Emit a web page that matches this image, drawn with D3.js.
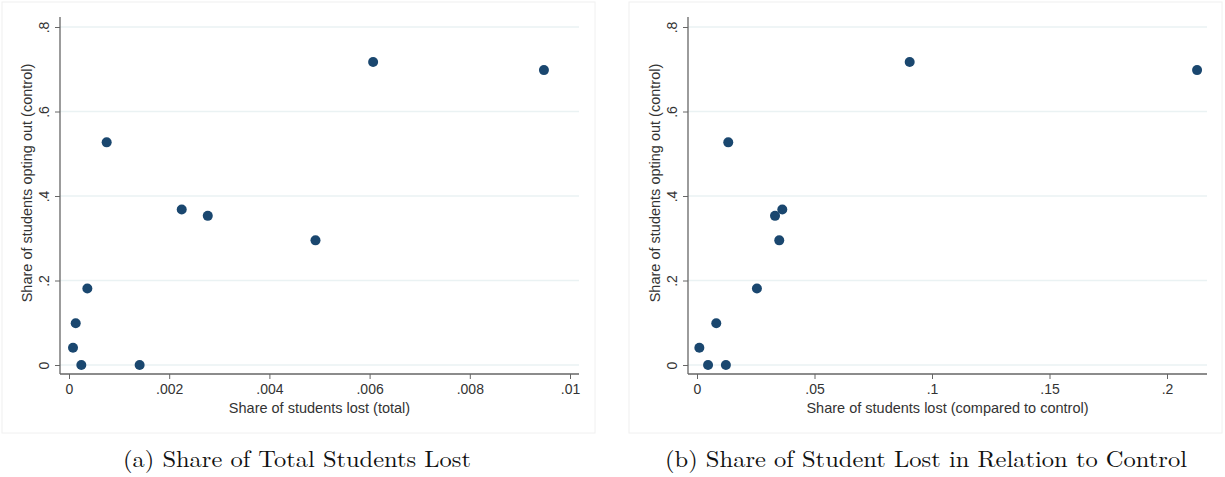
<!DOCTYPE html>
<html>
<head>
<meta charset="utf-8">
<script src="https://cdn.jsdelivr.net/npm/d3@7"></script>
<style>
  body { margin: 0; background: #fff; }
  svg { display: block; }
  .tick text { font-family: "Liberation Sans", Arial, sans-serif; font-size: 14px; fill: #333; }
  .axis-title { font-family: "Liberation Sans", Arial, sans-serif; font-size: 14.5px; fill: #333; }
  .caption { font-family: "Latin Modern Roman", "Liberation Serif", "DejaVu Serif", serif; font-size: 23px; fill: #111; }
</style>
</head>
<body>
<svg id="chart" width="1225" height="477"></svg>
<script>
// share opting out (control) -- same y for both panels
var optOut = [0.041, 0.099, 0, 0.181, 0, 0.527, 0.368, 0.353, 0.295, 0.717, 0.698];
// panel a: share of students lost (total)
var lostTotal = [0.00008, 0.000134, 0.000246, 0.000366, 0.00141, 0.000752, 0.00225, 0.00277, 0.00492, 0.00607, 0.00948];
// panel b: share lost compared to control
var lostRel = [0.001, 0.0082, 0.0047, 0.0255, 0.0123, 0.0133, 0.0363, 0.0332, 0.035, 0.0905, 0.2128];

var yTicks = [0, 0.2, 0.4, 0.6, 0.8];
var xTicksA = [0, 0.002, 0.004, 0.006, 0.008, 0.01];
var xTicksB = [0, 0.05, 0.1, 0.15, 0.2];

var fmt = function (v) {
  if (v === 0) return "0";
  return String(+v.toFixed(4)).replace(/^0\./, ".");
};

var svg = d3.select("#chart");

var panels = [
  { frame: [2, 2, 595, 433], axisX: [60, 579], axisY: [17, 374],
    xr: [69, 570], xd: [0, 0.01], xs: lostTotal, xt: xTicksA,
    xTitle: "Share of students lost (total)",
    caption: "(a) Share of Total Students Lost", capX: 297, capW: 348 },
  { frame: [629, 2, 1222, 433], axisX: [688, 1207], axisY: [17, 374],
    xr: [697, 1167], xd: [0, 0.2], xs: lostRel, xt: xTicksB,
    xTitle: "Share of students lost (compared to control)",
    caption: "(b) Share of Student Lost in Relation to Control", capX: 926, capW: 522 }
];

panels.forEach(function (p) {
  var g = svg.append("g");

  g.append("rect")
    .attr("x", p.frame[0]).attr("y", p.frame[1])
    .attr("width", p.frame[2] - p.frame[0]).attr("height", p.frame[3] - p.frame[1])
    .attr("fill", "#fff").attr("stroke", "#f0f0f0").attr("stroke-width", 1);

  var x = d3.scaleLinear().domain(p.xd).range(p.xr);
  var y = d3.scaleLinear().domain([0, 0.8]).range([365, 27]);

  // gridlines
  g.selectAll(".grid").data(yTicks).enter().append("line")
    .attr("x1", p.axisX[0]).attr("x2", p.axisX[1])
    .attr("y1", function (d) { return y(d); }).attr("y2", function (d) { return y(d); })
    .attr("stroke", "#eaf2f3").attr("stroke-width", 1.5);

  // x axis
  var xAxis = d3.axisBottom(x).tickValues(p.xt).tickFormat(fmt).tickSize(5).tickPadding(5);
  var xg = g.append("g").attr("transform", "translate(0," + p.axisY[1] + ")").call(xAxis);
  xg.select(".domain").remove();
  xg.selectAll(".tick line").attr("stroke", "#666");
  g.append("line")
    .attr("x1", p.axisX[0]).attr("x2", p.axisX[1])
    .attr("y1", p.axisY[1]).attr("y2", p.axisY[1])
    .attr("stroke", "#666").attr("stroke-width", 1.3);

  // y axis, labels turned vertical as in stata
  var yAxis = d3.axisLeft(y).tickValues(yTicks).tickFormat(fmt).tickSize(5).tickPadding(5);
  var yg = g.append("g").attr("transform", "translate(" + p.axisX[0] + ",0)").call(yAxis);
  yg.select(".domain").remove();
  yg.selectAll(".tick line").attr("stroke", "#666");
  yg.selectAll(".tick text")
    .attr("x", -11).attr("dy", "0")
    .attr("transform", "rotate(-90,-11,0)")
    .attr("text-anchor", "middle");
  g.append("line")
    .attr("x1", p.axisX[0]).attr("x2", p.axisX[0])
    .attr("y1", p.axisY[0]).attr("y2", p.axisY[1])
    .attr("stroke", "#666").attr("stroke-width", 1.3);

  // titles
  g.append("text").attr("class", "axis-title")
    .attr("x", (p.axisX[0] + p.axisX[1]) / 2).attr("y", 413)
    .attr("text-anchor", "middle").text(p.xTitle);
  g.append("text").attr("class", "axis-title")
    .attr("transform", "translate(" + (p.axisX[0] - 28) + ",183) rotate(-90)")
    .attr("text-anchor", "middle").text("Share of students opting out (control)");

  // points
  g.selectAll(".pt").data(p.xs).enter().append("circle")
    .attr("cx", function (d) { return x(d); })
    .attr("cy", function (d, i) { return y(optOut[i]); })
    .attr("r", 5)
    .attr("fill", "#1a476f");

  svg.append("text").attr("class", "caption")
    .attr("x", p.capX).attr("y", 467)
    .attr("text-anchor", "middle")
    .attr("textLength", p.capW).attr("lengthAdjust", "spacingAndGlyphs")
    .text(p.caption);
});
</script>
</body>
</html>
